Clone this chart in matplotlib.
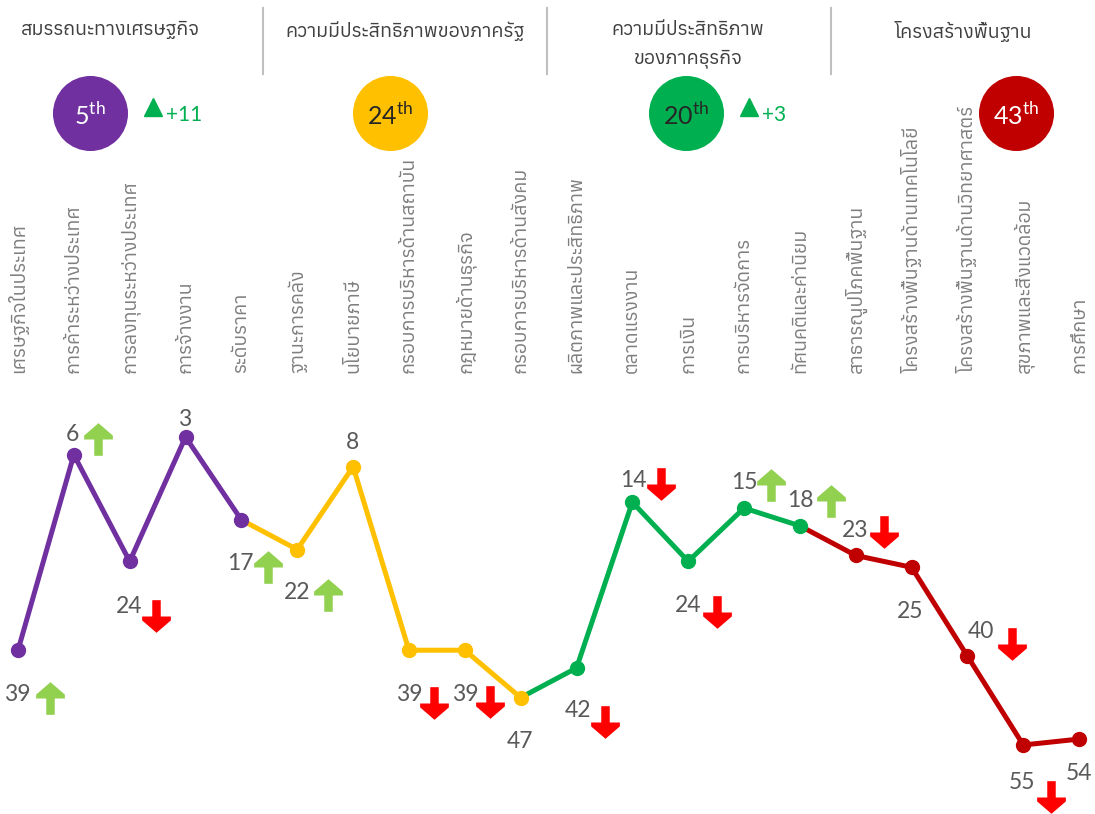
import matplotlib
matplotlib.use('Agg')
import matplotlib.pyplot as plt
import numpy as np
from matplotlib import font_manager
from matplotlib.ft2font import FT2Font
from matplotlib.path import Path
from matplotlib.transforms import offset_copy

# pick an installed family that covers Thai script
thai_family = None
for f in sorted(font_manager.fontManager.ttflist, key=lambda f: ('Serif' in f.name, f.name)):
    try:
        if 0x0E01 in FT2Font(f.fname).get_charmap():
            thai_family = f.name
            break
    except Exception:
        pass
families = ([thai_family] if thai_family else []) + ['DejaVu Sans']
plt.rcParams['font.family'] = families

categories = ['เศรษฐกิจในประเทศ', 'การค้าระหว่างประเทศ', 'การลงทุนระหว่างประเทศ', 'การจ้างงาน',
              'ระดับราคา', 'ฐานะการคลัง', 'นโยบายภาษี', 'กรอบการบริหารด้านสถาบัน',
              'กฎหมายด้านธุรกิจ', 'กรอบการบริหารด้านสังคม', 'ผลิตภาพและประสิทธิภาพ', 'ตลาดแรงงาน',
              'การเงิน', 'การบริหารจัดการ', 'ทัศนคติและค่านิยม', 'สาธารณูปโภคพื้นฐาน',
              'โครงสร้างพื้นฐานด้านเทคโนโลยี', 'โครงสร้างพื้นฐานด้านวิทยาศาสตร์',
              'สุขภาพและสิ่งแวดล้อม', 'การศึกษา']
ranks = [39, 6, 24, 3, 17, 22, 8, 39, 39, 47, 42, 14, 24, 15, 18, 23, 25, 40, 55, 54]
trend = ['up', 'up', 'down', None, 'up', 'up', None, 'down', 'down', None,
         'down', 'down', 'down', 'up', 'up', 'down', None, 'down', 'down', None]

groups = ['สมรรถนะทางเศรษฐกิจ', 'ความมีประสิทธิภาพของภาครัฐ',
          'ความมีประสิทธิภาพ\nของภาคธุรกิจ', 'โครงสร้างพื้นฐาน']
group_rank = [5, 24, 20, 43]
group_change = [11, None, 3, None]
# index ranges of each group's segment (line) and its own points
seg_ranges = [(0, 4), (4, 9), (9, 14), (14, 19)]
pt_ranges = [(0, 4), (5, 9), (10, 14), (15, 19)]
colors = ['#7030A0', '#FFC000', '#00B050', '#C00000']
circle_text = ['white', '#262626', '#262626', 'white']

# label / arrow offsets in pixels from each point
lab_off = [(-1, -44), (-1, 20), (-1, -45), (-1, 17), (-1, -44), (0, -43), (-1, 24),
           (0, -44), (0, -44), (-1, -44), (1, -43), (1, 22), (0, -44), (0, 26),
           (0, 25), (-1, 25), (-1, -44), (13, 25), (-1, -38), (0, -34)]
arr_off = [(32, -48), (24, 16), (26, -55), None, (27, -47), (31, -45), None,
           (25, -53), (25, -52), None, (28, -54), (29, 18), (29, -51), (27, 23),
           (31, 25), (28, 23), None, (45, 12), (28, -52), None]

W, H = 1095, 814
fig = plt.figure(figsize=(W / 100, H / 100), dpi=100)
ax = fig.add_axes([0, 0, 1, 1])
ax.set_axis_off()

# x pixel = 18 + 55.85*i ; y pixel = 437 + 5.923*(rank-3)
dx, dy = 55.85, 5.923
ax.set_xlim(-18 / dx, (W - 18) / dx)
ax.set_ylim(3 + (H - 437) / dy, 3 - 437 / dy)

x = np.arange(len(ranks))
r = np.array(ranks)

for (a, b), c in zip(seg_ranges, colors):
    ax.plot(x[a:b + 1], r[a:b + 1], color=c, lw=3.6, solid_capstyle='round', zorder=2)
for (a, b), c in zip(pt_ranges, colors):
    ax.plot(x[a:b + 1], r[a:b + 1], 'o', color=c, ms=10, zorder=3)

# block arrow marker (pointing up)
up_verts = [(-0.13, -0.5), (0.13, -0.5), (0.13, 0.0), (0.44, 0.0), (0.44, 0.12),
            (0.0, 0.5), (-0.44, 0.12), (-0.44, 0.0), (-0.13, 0.0), (-0.13, -0.5)]
up_arrow = Path(up_verts, closed=True)
down_arrow = Path([(vx, -vy) for vx, vy in up_verts], closed=True)

for i in range(len(ranks)):
    ox, oy = lab_off[i]
    ax.annotate(str(ranks[i]), (x[i], r[i]), xytext=(ox, oy), textcoords='offset pixels',
                ha='center', va='center', fontsize=16.5, color='#595959', family='Lato')
    if trend[i] is not None:
        ax_, ay_ = arr_off[i]
        tr = offset_copy(ax.transData, fig=fig, x=ax_, y=ay_, units='dots')
        if trend[i] == 'up':
            ax.plot(x[i], r[i], marker=up_arrow, color='#92D050', ms=23.5, mew=0,
                    transform=tr, zorder=4)
        else:
            ax.plot(x[i], r[i], marker=down_arrow, color='#FF0000', ms=23.5, mew=0,
                    transform=tr, zorder=4)

# rotated category names
for i, name in enumerate(categories):
    ax.annotate(name, (x[i], 0), xycoords=('data', 'figure pixels'),
                xytext=(x[i], H - 373), textcoords=('data', 'figure pixels'),
                rotation=90, ha='center', va='bottom', fontsize=14, color='#7F7F7F')

# header: group titles, separators, rank circles
title_x = [110, 405, 688, 963]
circle_x = [90, 390, 686, 1016]
for k in range(4):
    fig.text(title_x[k] / W, 1 - 21 / H, groups[k], ha='center', va='top',
             fontsize=14, color='#404040', linespacing=1.75)
    ax.plot(circle_x[k] / W, 1 - 113 / H, 'o', ms=53, color=colors[k],
            transform=fig.transFigure, clip_on=False)
    fig.text(circle_x[k] / W, 1 - 115 / H, str(group_rank[k]) + r'$^{\mathregular{th}}$',
             ha='center', va='center', fontsize=18, color=circle_text[k], family='Lato')
    if group_change[k] is not None:
        ax.plot((circle_x[k] + 63) / W, 1 - 107 / H, '^', ms=13, color='#00B050',
                transform=fig.transFigure, clip_on=False)
        fig.text((circle_x[k] + 76) / W, 1 - 115 / H, '+%d' % group_change[k],
                 ha='left', va='center', fontsize=15, color='#00B050', family='Lato')

for sx in [263, 547, 831]:
    ax.plot([sx / W, sx / W], [1 - 8 / H, 1 - 74 / H], color='#BFBFBF', lw=1.5,
            transform=fig.transFigure, clip_on=False)

fig.savefig('out.png', dpi=100)
